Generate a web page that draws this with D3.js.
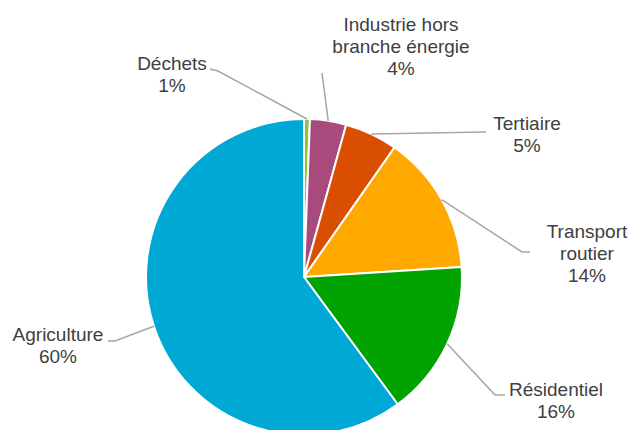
<!DOCTYPE html>
<html>
<head>
<meta charset="utf-8">
<script src="https://cdn.jsdelivr.net/npm/d3@7"></script>
<style>
  html, body { margin: 0; padding: 0; background: #fff; }
  svg { display: block; }
</style>
</head>
<body>
<div id="chart"></div>
<script>
// Data (clockwise from 12 o'clock)
const categories = ["Déchets", "Industrie hors branche énergie", "Tertiaire", "Transport routier", "Résidentiel", "Agriculture"];
const values = [0.6, 3.7, 5.4, 14.3, 15.9, 60.1];
const colors = ["#8cc63f", "#a84a7c", "#d94e00", "#ffa900", "#00a300", "#00a8d5"];
// how each label is broken over lines
const labelLines = [
  ["Déchets"],
  ["Industrie hors", "branche énergie"],
  ["Tertiaire"],
  ["Transport", "routier"],
  ["Résidentiel"],
  ["Agriculture"]
];

const width = 632;
const height = 430;
const cx = 304, cy = 277, radius = 158;
const fontSize = 19;
const lineHeight = 22;

// label layout: text centre x, first baseline y, elbow point of the leader
const labelLayout = [
  { x: 172, y: 70, elbow: [218, 71], end: [210, 69] },
  { x: 401, y: 31, elbow: null, end: [322, 73] },
  { x: 527, y: 130, elbow: null, end: [486, 132] },
  { x: 587, y: 238, elbow: [522, 252], end: [530, 252] },
  { x: 556, y: 396, elbow: [495, 395], end: [505, 395] },
  { x: 58, y: 341, elbow: [115, 341], end: [108, 341] }
];

const svg = d3.select("#chart")
  .append("svg")
  .attr("width", width)
  .attr("height", height);

const pie = d3.pie().sort(null).value((d) => d);
const arcs = pie(values);
const arc = d3.arc().innerRadius(0).outerRadius(radius);

const g = svg.append("g").attr("transform", `translate(${cx},${cy})`);

// Leader lines
const total = d3.sum(values);
arcs.forEach((a, i) => {
  const mid = (a.startAngle + a.endAngle) / 2;
  const sx = cx + Math.sin(mid) * radius;
  const sy = cy - Math.cos(mid) * radius;
  const L = labelLayout[i];
  const pts = [[sx, sy]];
  if (L.elbow) pts.push(L.elbow);
  pts.push(L.end);
  svg.append("path")
    .attr("d", d3.line()(pts))
    .attr("fill", "none")
    .attr("stroke", "#a6a6a6")
    .attr("stroke-width", 1.5);
});

// Slices
g.selectAll("path")
  .data(arcs)
  .enter()
  .append("path")
  .attr("d", arc)
  .attr("fill", (d, i) => colors[i])
  .attr("stroke", "#fff")
  .attr("stroke-width", 2)
  .attr("stroke-linejoin", "round");

// Labels
const labels = svg.append("g")
  .attr("font-family", "'Liberation Sans', Arial, sans-serif")
  .attr("font-size", fontSize)
  .attr("fill", "#404040")
  .attr("text-anchor", "middle");

categories.forEach((c, i) => {
  const L = labelLayout[i];
  const lines = labelLines[i].concat([Math.round(values[i] / total * 100) + "%"]);
  const t = labels.append("text").attr("x", L.x).attr("y", L.y);
  lines.forEach((s, j) => {
    t.append("tspan")
      .attr("x", L.x)
      .attr("dy", j === 0 ? 0 : lineHeight)
      .text(s);
  });
});
</script>
</body>
</html>
